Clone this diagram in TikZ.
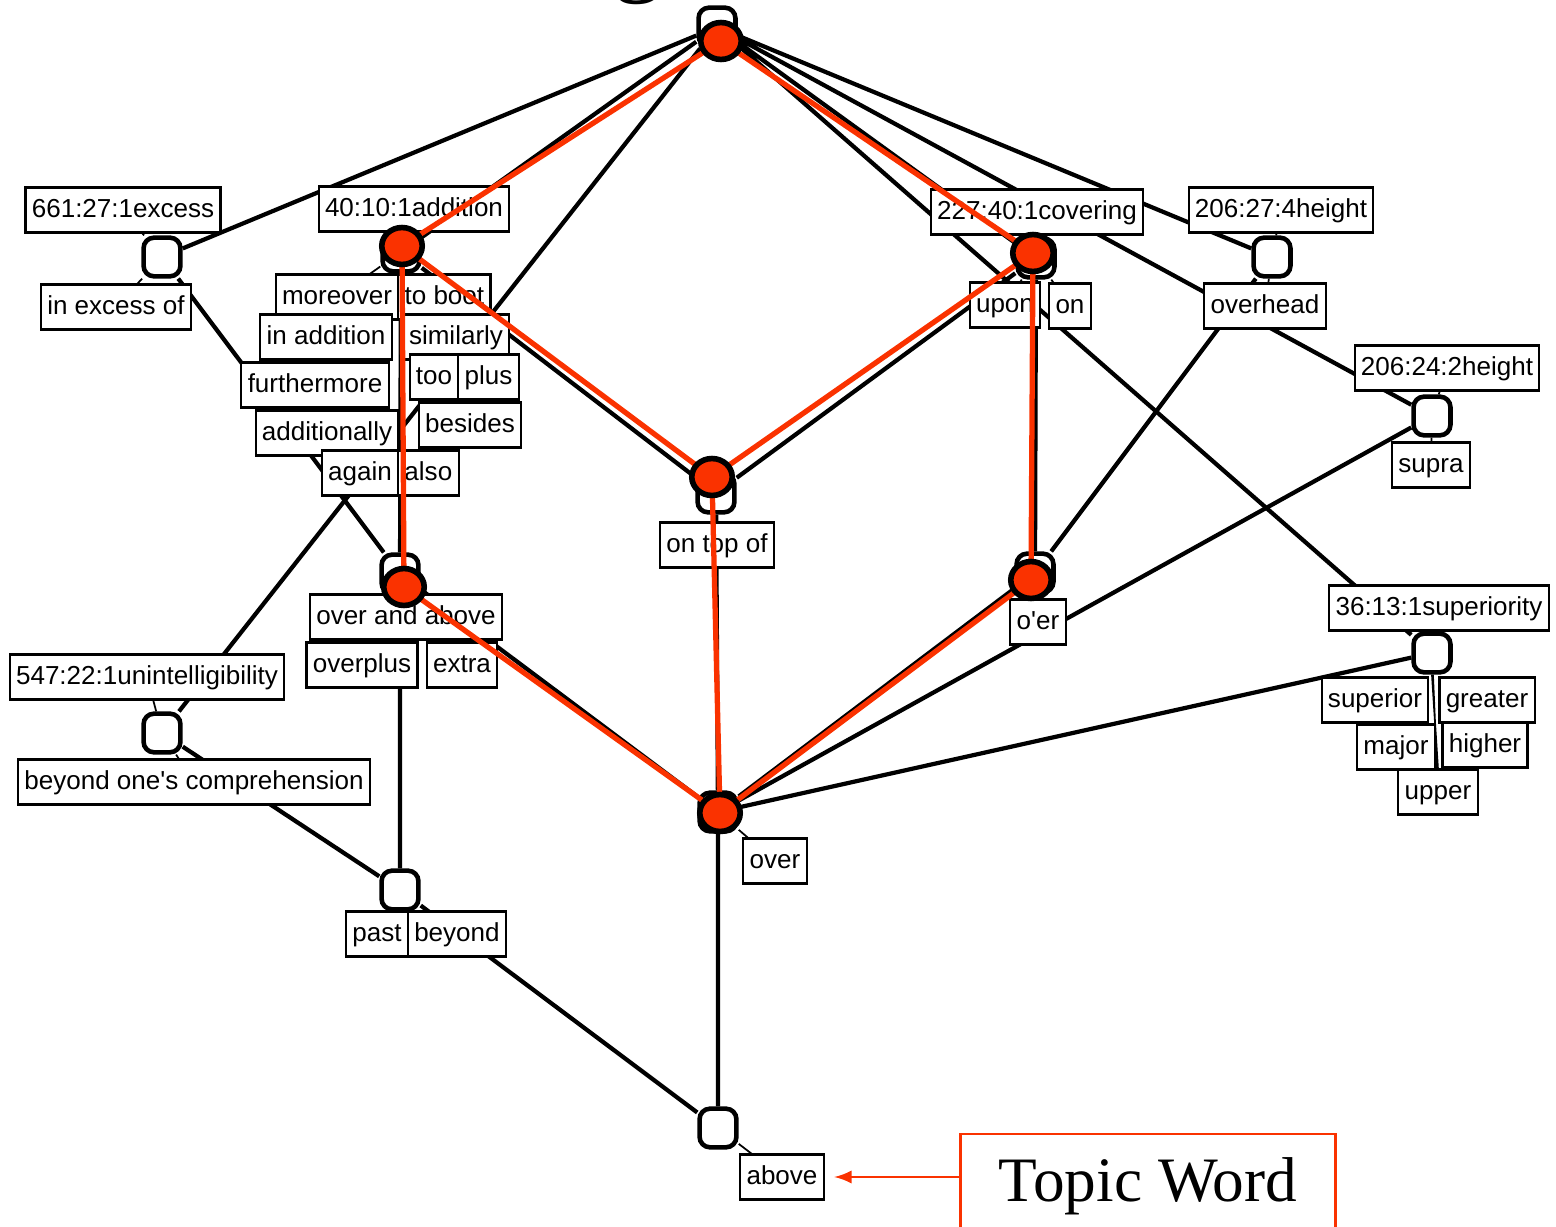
\documentclass[tikz,border=0pt]{standalone}
\usepackage{fontspec}
\newfontfamily\lblfont{Liberation Sans}
\newfontfamily\capfont{Liberation Serif}
\usetikzlibrary{positioning,shapes.geometric}
\definecolor{hilite}{RGB}{250,50,0}
\pgfdeclarelayer{edges}
\pgfdeclarelayer{redlines}
\pgfdeclarelayer{marks}
\pgfsetlayers{edges,main,redlines,marks}

\begin{document}
\begin{tikzpicture}[x=0.01cm, y=-0.01cm,
	concept/.style={draw, fill=white, line width=1.3pt, rounded corners=3pt, minimum width=10.5pt, minimum height=11pt, inner sep=0pt},
	word/.style={draw, fill=white, line width=0.6pt, inner xsep=1.8pt, inner ysep=0pt, minimum height=12.8pt, text height=5.6pt, text depth=1.6pt, outer sep=0pt, font=\lblfont\fontsize{7.4}{8.5}\selectfont},
	link/.style={line width=1.2pt},
	leader/.style={line width=0.5pt},
	hit/.style={ellipse, draw, fill=hilite, line width=1.6pt, minimum width=11.5pt, minimum height=10.5pt, inner sep=0pt},
	hitpath/.style={draw=hilite, line width=1.5pt},
	topicbox/.style={draw=hilite, line width=0.7pt, minimum width=106.7pt, minimum height=29.6pt, font=\capfont\fontsize{18}{20}\selectfont}]
	\useasboundingbox (0,0) rectangle (1556,1227);
	\node[font=\capfont\fontsize{28}{30}\selectfont, anchor=base] (ttl) at (638,-16) {g};

	\node[word] (a-excess) at (123,210) {661:27:1excess};
	\node[word] (w-inexcess) at (116,307) {in excess of};
	\node[word] (a-addition) at (414,209) {40:10:1addition};
	\node[word] (w-moreover) at (337,297) {moreover};
	\node[word, right=0pt of w-moreover] (w-toboot) {to boot};
	\node[word] (w-inaddition) at (326,337) {in addition};
	\node[word] (w-similarly) at (456,337) {similarly};
	\node[word] (w-too) at (434,377) {too};
	\node[word, right=0pt of w-too] (w-plus) {plus};
	\node[word] (w-furthermore) at (315,385) {furthermore};
	\node[word] (w-besides) at (470,425) {besides};
	\node[word] (w-additionally) at (327,433) {additionally};
	\node[word] (w-again) at (360,473) {again};
	\node[word, right=0pt of w-again] (w-also) {also};
	\node[word] (w-ontopof) at (717,545) {on top of};
	\node[word] (w-overandabove) at (406,617) {over and above};
	\node[word] (w-overplus) at (362,665) {overplus};
	\node[word] (w-extra) at (462,665) {extra};
	\node[word] (a-unintel) at (147,677) {547:22:1unintelligibility};
	\node[word] (w-beyondones) at (194,782) {beyond one\textquotesingle s comprehension};
	\node[word] (w-past) at (377,934) {past};
	\node[word, right=0pt of w-past] (w-beyond) {beyond};
	\node[word] (w-over) at (775,861) {over};
	\node[word] (w-above) at (782,1177) {above};
	\node[word] (a-covering) at (1037,212) {227:40:1covering};
	\node[word] (w-upon) at (1005,305) {upon};
	\node[word] (w-on) at (1070,306) {on};
	\node[word] (a-heightA) at (1281,210) {206:27:4height};
	\node[word] (w-overhead) at (1265,306) {overhead};
	\node[word] (a-heightB) at (1447,368) {206:24:2height};
	\node[word] (w-supra) at (1431,465) {supra};
	\node[word] (w-oer) at (1038,622) {o\textquotesingle er};
	\node[word] (a-superiority) at (1439,608) {36:13:1superiority};
	\node[word] (w-superior) at (1375,700) {superior};
	\node[word] (w-greater) at (1487,700) {greater};
	\node[word] (w-major) at (1396,747) {major};
	\node[word] (w-higher) at (1485,745) {higher};
	\node[word] (w-upper) at (1438,792) {upper};

	\node[concept] (top) at (717,27) {};
	\node[concept] (excess) at (162,257) {};
	\node[concept] (addition) at (401,252) {};
	\node[concept] (unintel) at (162,733) {};
	\node[concept] (overabove) at (400,574) {};
	\node[concept] (pastbeyond) at (400,890) {};
	\node[concept] (ontop) at (716,493) {};
	\node[concept] (over) at (718,812) {};
	\node[concept] (above) at (718,1128) {};
	\node[concept] (covering) at (1036,258) {};
	\node[concept] (heightA) at (1272,257) {};
	\node[concept] (heightB) at (1432,416) {};
	\node[concept] (oer) at (1035,573) {};
	\node[concept] (superiority) at (1432,653) {};

	\begin{pgfonlayer}{edges}
		\draw[leader] (excess) -- (a-excess) (excess) -- (w-inexcess)
			(addition) -- (w-moreover) (addition) -- (w-toboot) (addition) -- (w-furthermore)
			(addition) -- (w-besides) (addition) -- (w-again) (addition) -- (w-also)
			(unintel) -- (a-unintel) (unintel) -- (w-beyondones)
			(pastbeyond) -- (w-past) (pastbeyond) -- (w-beyond)
			(over) -- (w-over) (above) -- (w-above)
			(covering) -- (w-upon) (covering) -- (w-on)
			(heightA) -- (a-heightA) (heightA) -- (w-overhead)
			(heightB) -- (a-heightB) (heightB) -- (w-supra)
			(oer) -- (w-oer) (superiority) -- (a-superiority)
			(superiority) -- (w-upper) (superiority.south) -- (w-upper.north);
		\draw[link] (top) -- (excess) (top) -- (addition) (top) -- (unintel)
			(top) -- (covering) (top) -- (heightA) (top) -- (heightB) (top) -- (superiority);
		\draw[link] (excess) -- (overabove) (addition) -- (ontop) (addition) -- (overabove)
			(unintel) -- (pastbeyond) (overabove) -- (pastbeyond) (overabove) -- (over)
			(ontop) -- (over) (covering) -- (ontop) (covering) -- (oer)
			(heightA) -- (oer) (heightB) -- (over) (oer) -- (over) (superiority) -- (over)
			(over) -- (above) (pastbeyond) -- (above);
	\end{pgfonlayer}

	\begin{pgfonlayer}{marks}
		\node[hit] (r-top) at (721,41) {};
		\node[hit] (r-addition) at (402,246) {};
		\node[hit] (r-covering) at (1033,253) {};
		\node[hit] (r-ontop) at (712,477) {};
		\node[hit] (r-overabove) at (404,587) {};
		\node[hit] (r-oer) at (1031,580) {};
		\node[hit] (r-over) at (720,813) {};
	\end{pgfonlayer}
	\begin{pgfonlayer}{redlines}
		\draw[hitpath] (r-top.center) -- (r-addition.center) (r-top.center) -- (r-covering.center)
			(r-addition.center) -- (r-ontop.center) (r-covering.center) -- (r-ontop.center)
			(r-addition.center) -- (r-overabove.center) (r-covering.center) -- (r-oer.center)
			(r-ontop.center) -- (r-over.center) (r-overabove.center) -- (r-over.center)
			(r-oer.center) -- (r-over.center);
	\end{pgfonlayer}

	\node[topicbox] (topic) at (1148,1186) {Topic Word};
	\draw[hilite, line width=0.7pt, -latex, shorten >=3pt] (topic.west |- w-above.east) -- (w-above.east);
\end{tikzpicture}
\end{document}
